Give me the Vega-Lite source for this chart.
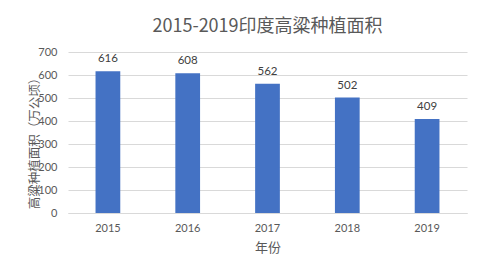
{
  "$schema": "https://vega.github.io/schema/vega-lite/v6.json",
  "autosize": "none",
  "width": 399,
  "height": 161,
  "padding": {"left": 68, "top": 52, "right": 15, "bottom": 62},
  "background": "white",
  "title": {
    "text": "2015-2019印度高粱种植面积",
    "fontSize": 18,
    "font": "Noto Sans CJK SC",
    "fontWeight": "normal",
    "color": "#595959",
    "anchor": "middle",
    "offset": 10
  },
  "data": {
    "values": [
      {"year": "2015", "area": 616},
      {"year": "2016", "area": 608},
      {"year": "2017", "area": 562},
      {"year": "2018", "area": 502},
      {"year": "2019", "area": 409}
    ]
  },
  "config": {
    "view": {"stroke": null},
    "font": "Lato, Noto Sans CJK SC",
    "axis": {
      "labelColor": "#595959",
      "titleColor": "#595959",
      "labelFontSize": 11,
      "labelFont": "Lato, Noto Sans CJK SC",
      "titleFont": "Noto Sans CJK SC",
      "titleFontWeight": "normal",
      "ticks": false
    }
  },
  "encoding": {
    "x": {
      "field": "year",
      "type": "nominal",
      "scale": {"paddingInner": 0.69, "paddingOuter": 0.345},
      "axis": {
        "title": "年份",
        "titleFontSize": 13,
        "labelAngle": 0,
        "labelPadding": 9,
        "titlePadding": 8,
        "domainColor": "#d9d9d9",
        "grid": false
      }
    },
    "y": {
      "field": "area",
      "type": "quantitative",
      "scale": {"domain": [0, 700]},
      "axis": {
        "title": "高粱种植面积（万公顷）",
        "titleFontSize": 12.5,
        "values": [0, 100, 200, 300, 400, 500, 600, 700],
        "domain": false,
        "gridColor": "#d9d9d9",
        "labelPadding": 11,
        "titleX": -34,
        "titleY": 88,
        "titleAngle": -90,
        "titleAlign": "center",
        "titleBaseline": "middle"
      }
    }
  },
  "layer": [
    {"mark": {"type": "bar", "color": "#4472C4"}},
    {
      "mark": {"type": "text", "baseline": "bottom", "dy": -7, "fontSize": 11.5, "color": "#404040", "font": "Lato"},
      "encoding": {"text": {"field": "area", "type": "quantitative"}}
    }
  ]
}
